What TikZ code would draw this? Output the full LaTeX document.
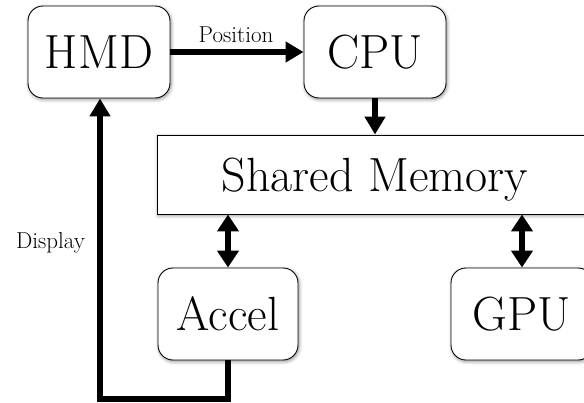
\documentclass[tikz,border=0pt]{standalone}
\usetikzlibrary{arrows.meta,shadows.blur}

\tikzset{
  box/.style={draw=black, line width=0.9pt, fill=white, rounded corners=15pt,
    minimum width=142pt, minimum height=92pt, inner sep=0pt, text depth=0pt,
    font=\fontsize{48}{55}\selectfont,
    blur shadow={shadow xshift=1pt, shadow yshift=-1.5pt, shadow blur radius=3.5pt, shadow opacity=45}},
  membox/.style={box, rounded corners=0pt, minimum width=436pt, minimum height=79pt},
  flow/.style={line width=6pt, -{Triangle[length=18pt,width=20pt]}},
  dualflow/.style={line width=6pt, {Triangle[length=17pt,width=21pt]}-{Triangle[length=17pt,width=21pt]}},
  loopline/.style={line width=6pt, miter limit=10, -{Triangle[length=18pt,width=20pt]}},
  caption/.style={font=\fontsize{23}{27}\selectfont, inner sep=0pt, anchor=base}
}

\begin{document}
\begin{tikzpicture}[x=1pt, y=-1pt]
  \clip (0,0) rectangle (584,402);

  % processing units
  \node[box]    (hmd)   at (99,52)    {HMD};
  \node[box]    (cpu)   at (375,52)   {CPU};
  \node[membox] (mem)   at (375,174.5) {Shared Memory};
  \node[box, minimum width=140pt] (accel) at (228,314) {Accel};
  \node[box]    (gpu)   at (522,314)  {GPU};

  % data paths
  \draw[flow] (hmd.east) -- (cpu.west);
  \node[caption] (poslabel) at (236,42) {Position};

  \draw[flow] (cpu.south) -- (cpu.south |- mem.north);
  \draw[dualflow] (accel.north |- mem.south) -- (accel.north);
  \draw[dualflow] (gpu.north |- mem.south) -- (gpu.north);

  % display return path
  \coordinate (loopcorner) at (100,398.5);
  \draw[loopline] (accel.south) |- (loopcorner) -- (loopcorner |- hmd.south);
  \node[caption] (displabel) at (50.5,248) {Display};
\end{tikzpicture}
\end{document}
